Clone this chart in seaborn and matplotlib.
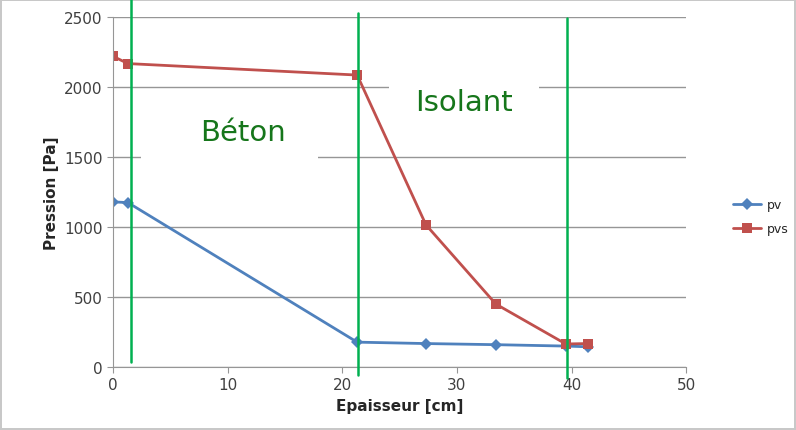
import matplotlib
matplotlib.use("Agg")
import matplotlib.pyplot as plt
from matplotlib.patches import Rectangle
import seaborn as sns
import pandas as pd

epaisseur = [0, 1.3, 21.3, 27.3, 33.4, 39.5, 41.4]
pv = [1180, 1175, 178, 168, 160, 150, 145]
pvs = [2220, 2168, 2086, 1016, 450, 165, 168]
series_names = ["pv", "pvs"]
layer_x = [1.55, 21.4, 39.6]
layer_y0 = [36, -57, -79]
layer_y1 = [2630, 2530, 2495]
labels = ["Béton", "Isolant"]
label_x = [11.3, 30.6]
label_y = [1680, 1890]

sns.set_style("white")
plt.rcParams['font.family'] = ['DejaVu Sans']

df = pd.DataFrame({"x": epaisseur * 2,
                   "y": pv + pvs,
                   "serie": [series_names[0]] * len(pv) + [series_names[1]] * len(pvs)})

fig = plt.figure(figsize=(7.96, 4.31), dpi=100)
fig.patch.set_edgecolor("#c8c8c8")
fig.patch.set_linewidth(1.5)
ax = fig.add_axes([0.142, 0.146, 0.720, 0.812])

sns.lineplot(data=df, x="x", y="y", hue="serie", style="serie",
             markers={"pv": "D", "pvs": "s"}, dashes=False,
             palette={"pv": "#4F81BD", "pvs": "#C0504D"},
             linewidth=2, markersize=6.5, markeredgewidth=0, ax=ax, sort=False)

ax.set_xlim(0, 50)
ax.set_ylim(0, 2500)
ax.set_xticks(range(0, 51, 10))
ax.set_yticks(range(0, 2501, 500))
ax.grid(axis="y", color="#969696", linewidth=1)
ax.set_axisbelow(True)
for s in ["top", "right"]:
    ax.spines[s].set_visible(False)
for s in ["left", "bottom"]:
    ax.spines[s].set_color("#969696")
ax.tick_params(axis="both", direction="out", length=4, color="#969696",
               labelsize=11, labelcolor="#404040", left=True, bottom=True)
ax.set_xlabel("Epaisseur [cm]", fontsize=11, fontweight="bold")
ax.set_ylabel("Pression [Pa]", fontsize=11, fontweight="bold")

for xv, a, b in zip(layer_x, layer_y0, layer_y1):
    ax.plot([xv, xv], [a, b], color="#00B050", linewidth=1.8, clip_on=False, zorder=5)

# white label boxes that mask the grid behind the text
ax.add_patch(Rectangle((2.4, 1400), 15.5, 480, facecolor="white", edgecolor="none", zorder=1))
ax.add_patch(Rectangle((24.1, 1700), 13.1, 420, facecolor="white", edgecolor="none", zorder=1))

for t, xv, yv in zip(labels, label_x, label_y):
    ax.text(xv, yv, t, color="#16761b", fontsize=21, ha="center", va="center",
            fontfamily="DejaVu Sans", zorder=3)

leg = ax.legend(loc="center left", bbox_to_anchor=(1.082, 0.43), frameon=False,
                fontsize=9, handlelength=2.2, handletextpad=0.5,
                borderpad=0, borderaxespad=0, labelspacing=0.9)

fig.savefig("out.png", dpi=100)
